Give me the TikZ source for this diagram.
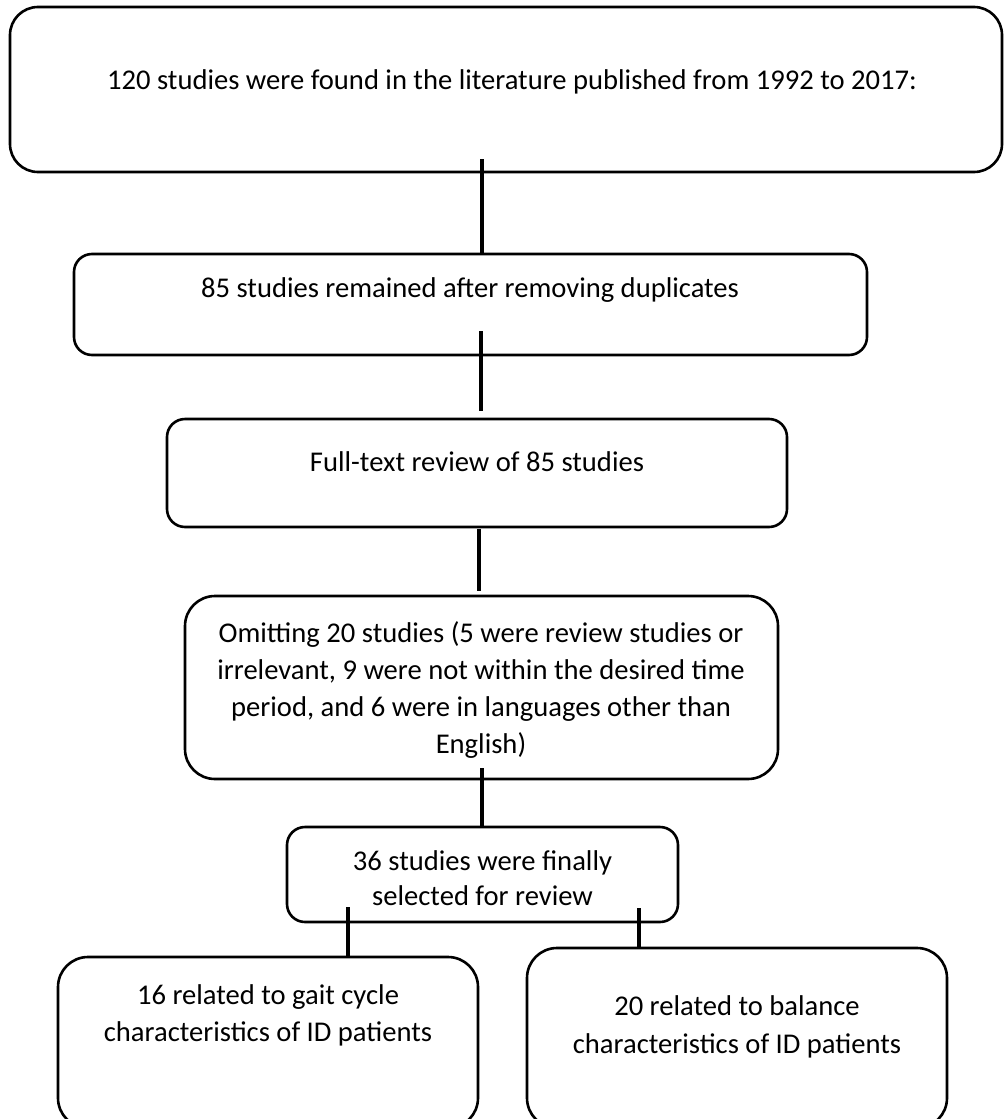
\documentclass[tikz,border=0pt]{standalone}
\usepackage{fontspec}
\setmainfont{Carlito}
\begin{document}
\begin{tikzpicture}[x=1pt,y=-1pt,
  box/.style={draw=black, line width=2.6pt, rounded corners=#1, inner sep=0pt, fill=white},
  conn/.style={draw=black, line width=3.6pt},
  txt/.style={anchor=base, align=center, inner sep=0pt, font=\fontsize{28.6pt}{#1}\selectfont},
  txt/.default={36.5pt}]
\useasboundingbox (0,0) rectangle (1004,1119);
\fill[white] (0,0) rectangle (1004,1119);
\clip (0,0) rectangle (1004,1119);
% boxes
\node[box=28pt, minimum width=992pt, minimum height=165pt] (b1) at (506,89.5) {};
\node[box=18pt, minimum width=793pt, minimum height=101pt] (b2) at (470.5,304.5) {};
\node[box=18pt, minimum width=620pt, minimum height=108pt] (b3) at (477,473) {};
\node[box=30pt, minimum width=593pt, minimum height=183pt] (b4) at (481.5,687.5) {};
\node[box=18pt, minimum width=391pt, minimum height=95pt] (b5) at (482.5,874.5) {};
\node[box=30pt, minimum width=420pt, minimum height=171pt] (b6) at (268,1042.5) {};
\node[box=30pt, minimum width=420pt, minimum height=180pt] (b7) at (737,1038) {};
% texts (base anchor = baseline of the last line)
\node[txt] (t1) at (512,89) {120 studies were found in the literature published from 1992 to 2017:};
\node[txt] (t2) at (470,297) {85 studies remained after removing duplicates};
\node[txt] (t3) at (477,471) {Full-text review of 85 studies};
\node[txt=36.7pt] (t4) at (481,753) {Omitting 20 studies (5 were review studies or\\irrelevant, 9 were not within the desired time\\period, and 6 were in languages other than\\English)};
\node[txt=35pt] (t5) at (482.5,905) {36 studies were finally\\selected for review};
\node[txt=37pt] (t6) at (268,1041) {16 related to gait cycle\\characteristics of ID patients};
\node[txt=38pt] (t7) at (737,1053) {20 related to balance\\characteristics of ID patients};
% connector ends
\coordinate (k1) at (482,159);
\coordinate (k2) at (481,331);
\coordinate (k2e) at (481,411);
\coordinate (k3) at (479,529);
\coordinate (k3e) at (479,591);
\coordinate (k4) at (482,768);
\coordinate (k5) at (348,907);
\coordinate (k6) at (639,908);
% connectors
\draw[conn] (k1) -- (k1 |- b2.north);
\draw[conn] (k2) -- (k2e);
\draw[conn] (k3) -- (k3e);
\draw[conn] (k4) -- (k4 |- b5.north);
\draw[conn] (k5) -- (k5 |- b6.north);
\draw[conn] (k6) -- (k6 |- b7.north);
\end{tikzpicture}
\end{document}
